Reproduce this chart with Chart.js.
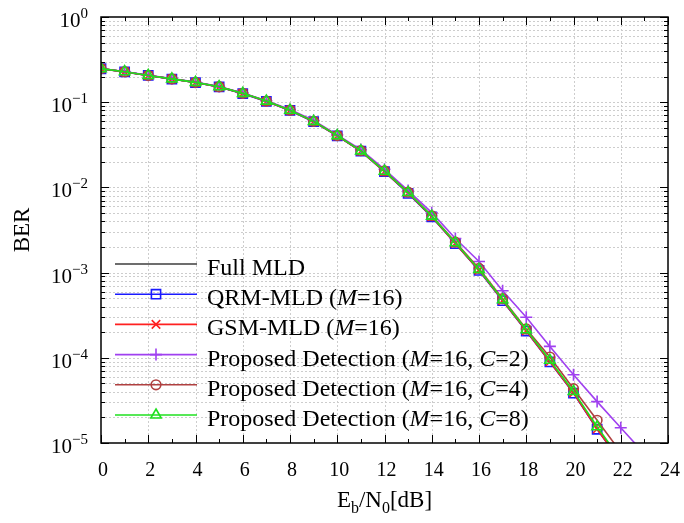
<!DOCTYPE html>
<html>
<head>
<meta charset="utf-8">
<script src="https://cdn.jsdelivr.net/npm/chart.js@4.4.0/dist/chart.umd.min.js"></script>
<style>
  html, body { margin: 0; padding: 0; background: #fff; }
  #wrap { width: 684px; height: 523px; }
</style>
</head>
<body>
<div id="wrap"><canvas id="berChart"></canvas></div>
<script>
// Eb/N0 in dB
const ebn0 = [0, 1, 2, 3, 4, 5, 6, 7, 8, 9, 10, 11, 12, 13, 14, 15, 16, 17, 18, 19, 20, 21, 22, 23];

// BER curves
const berFull = [0.248, 0.228, 0.206, 0.188, 0.171, 0.152, 0.127, 0.103, 0.0805, 0.0595, 0.0404, 0.0267, 0.0154, 0.0086, 0.00455, 0.00221, 0.00107, 0.000475, 0.000209, 0.000091, 0.0000392, 0.0000148, 0.0000061];
const berQrm = [0.247, 0.227, 0.206, 0.187, 0.170, 0.151, 0.126, 0.102, 0.0800, 0.0590, 0.0402, 0.0266, 0.0153, 0.0085, 0.00450, 0.00219, 0.00106, 0.000468, 0.000206, 0.0000895, 0.0000385, 0.0000145, 0.0000060];
const berGsm = [0.248, 0.227, 0.206, 0.188, 0.170, 0.151, 0.127, 0.102, 0.0802, 0.0594, 0.0403, 0.0266, 0.0153, 0.0086, 0.00452, 0.00220, 0.00107, 0.000470, 0.000207, 0.0000900, 0.0000388, 0.0000146, 0.0000060];
const berC2 = [0.249, 0.229, 0.207, 0.189, 0.172, 0.153, 0.128, 0.104, 0.0820, 0.0610, 0.0414, 0.0278, 0.0163, 0.0092, 0.00505, 0.00251, 0.00135, 0.000612, 0.000299, 0.000136, 0.0000632, 0.0000306, 0.0000151, 0.0000075];
const berC4 = [0.248, 0.228, 0.206, 0.188, 0.171, 0.152, 0.127, 0.103, 0.0806, 0.0597, 0.0406, 0.0270, 0.0156, 0.0088, 0.00465, 0.00228, 0.00112, 0.000495, 0.000218, 0.000102, 0.0000434, 0.0000185, 0.0000078];
const berC8 = [0.248, 0.228, 0.206, 0.188, 0.171, 0.152, 0.127, 0.103, 0.0805, 0.0596, 0.0405, 0.0268, 0.0155, 0.0087, 0.00460, 0.00224, 0.00109, 0.000480, 0.000213, 0.0000935, 0.0000403, 0.0000155, 0.0000064];

const seriesNames = ['Full MLD', 'QRM-MLD (M=16)', 'GSM-MLD (M=16)',
  'Proposed Detection (M=16, C=2)', 'Proposed Detection (M=16, C=4)', 'Proposed Detection (M=16, C=8)'];
const seriesColors = ['#3c3c3c', '#1a1aff', '#ff2020', '#a040f0', '#b04040', '#1fe01f'];
const seriesMarkers = [false, 'rect', 'crossRot', 'cross', 'circle', 'triangle'];
const markerSizes = [0, 6.5, 6, 6, 4.8, 6];
const seriesValues = [berFull, berQrm, berGsm, berC2, berC4, berC8];

const xTicks = [0, 2, 4, 6, 8, 10, 12, 14, 16, 18, 20, 22, 24];
const yDecades = [1, 0.1, 0.01, 0.001, 0.0001, 0.00001];
const yExponents = ['0', '\u22121', '\u22122', '\u22123', '\u22124', '\u22125'];

const SERIF = '"Liberation Serif", "DejaVu Serif", serif';

const pts = vals => vals.map((v, i) => ({ x: ebn0[i], y: v }));

const datasets = seriesValues.map((vals, i) => ({
  label: seriesNames[i],
  data: pts(vals),
  borderColor: seriesColors[i],
  backgroundColor: 'rgba(0,0,0,0)',
  borderWidth: 1.6,
  pointStyle: seriesMarkers[i] || 'circle',
  pointRadius: markerSizes[i],
  pointBorderWidth: 1.6,
  pointBorderColor: seriesColors[i],
  pointBackgroundColor: 'rgba(0,0,0,0)',
  order: seriesValues.length - i,
  tension: 0
}));

// draws a string where "M" / "C" before "=" are italic
function drawRich(ctx, text, x, y, size) {
  const parts = text.split(/([MC])(?==)/);
  parts.forEach((p, i) => {
    if (!p) return;
    const italic = i % 2 === 1;
    ctx.font = (italic ? 'italic ' : '') + size + 'px ' + SERIF;
    ctx.fillText(p, x, y);
    x += ctx.measureText(p).width;
  });
}

const gnuFrame = {
  id: 'gnuFrame',
  beforeDatasetsDraw(chart) {
    const { ctx, chartArea: a, scales: { x, y } } = chart;
    ctx.save();
    ctx.strokeStyle = '#cdcdcd';
    ctx.lineWidth = 1;
    ctx.setLineDash([2, 2]);
    xTicks.forEach(v => {
      if (v === 0 || v === 24) return;
      const px = Math.round(x.getPixelForValue(v)) + 0.5;
      ctx.beginPath(); ctx.moveTo(px, a.top); ctx.lineTo(px, a.bottom); ctx.stroke();
    });
    yDecades.forEach((d, k) => {
      if (k === 0) return;
      for (let m = 1; m <= 9; m++) {
        if (m === 1 && k === yDecades.length - 1) continue;
        const py = Math.round(y.getPixelForValue(d * m)) + 0.5;
        ctx.beginPath(); ctx.moveTo(a.left, py); ctx.lineTo(a.right, py); ctx.stroke();
      }
    });
    ctx.restore();
  },
  afterDraw(chart) {
    const { ctx, chartArea: a, scales: { x, y } } = chart;
    ctx.save();
    ctx.setLineDash([]);
    ctx.strokeStyle = '#000';
    ctx.lineWidth = 1.5;
    ctx.strokeRect(a.left, a.top, a.right - a.left, a.bottom - a.top);

    // tick marks
    ctx.lineWidth = 1;
    for (let v = 0; v <= 24; v++) {
      const len = v % 2 === 0 ? 8 : 4;
      const px = Math.round(x.getPixelForValue(v)) + 0.5;
      ctx.beginPath();
      ctx.moveTo(px, a.bottom); ctx.lineTo(px, a.bottom - len);
      ctx.moveTo(px, a.top); ctx.lineTo(px, a.top + len);
      ctx.stroke();
    }
    yDecades.forEach((d, k) => {
      for (let m = 1; m <= 9; m++) {
        if (m > 1 && k === 0) break;
        const len = m === 1 ? 8 : 4;
        const py = Math.round(y.getPixelForValue(d * m)) + 0.5;
        ctx.beginPath();
        ctx.moveTo(a.left, py); ctx.lineTo(a.left + len, py);
        ctx.moveTo(a.right, py); ctx.lineTo(a.right - len, py);
        ctx.stroke();
      }
    });

    // tick labels
    ctx.fillStyle = '#000';
    ctx.textBaseline = 'alphabetic';
    ctx.textAlign = 'center';
    ctx.font = '20px ' + SERIF;
    xTicks.forEach(v => ctx.fillText(String(v), x.getPixelForValue(v) + 2, a.bottom + 33));

    ctx.textAlign = 'right';
    yDecades.forEach((d, k) => {
      const py = y.getPixelForValue(d);
      ctx.font = '15px ' + SERIF;
      const supW = ctx.measureText(yExponents[k]).width;
      ctx.fillText(yExponents[k], 88, py + 1);
      ctx.font = '21px ' + SERIF;
      ctx.fillText('10', 88 - supW, py + 10);
    });

    // axis titles
    ctx.textAlign = 'left';
    const tx = [['E', 23, 0], ['b', 16, 6], ['/N', 23, 0], ['0', 16, 6], ['[dB]', 23, 0]];
    let w = 0;
    tx.forEach(([s, f]) => { ctx.font = f + 'px ' + SERIF; w += ctx.measureText(s).width; });
    let cx = (a.left + a.right) / 2 - w / 2;
    tx.forEach(([s, f, dy]) => {
      ctx.font = f + 'px ' + SERIF;
      ctx.fillText(s, cx, 507 + dy);
      cx += ctx.measureText(s).width;
    });

    ctx.save();
    ctx.translate(29, (a.top + a.bottom) / 2);
    ctx.rotate(-Math.PI / 2);
    ctx.textAlign = 'center';
    ctx.font = '23px ' + SERIF;
    ctx.fillText('BER', 0, 0);
    ctx.restore();

    // legend
    chart.data.datasets.forEach((ds, i) => {
      const ly = 264 + i * 30.2;
      ctx.strokeStyle = ds.borderColor;
      ctx.lineWidth = 1.6;
      ctx.beginPath(); ctx.moveTo(115, ly); ctx.lineTo(197, ly); ctx.stroke();
      if (seriesMarkers[i]) {
        ctx.fillStyle = 'rgba(0,0,0,0)';
        Chart.helpers.drawPoint(ctx, { pointStyle: seriesMarkers[i], radius: markerSizes[i], borderWidth: 1.6, rotation: 0 }, 156, ly);
      }
      ctx.fillStyle = '#000';
      drawRich(ctx, ds.label, 207, ly + 11, 24);
    });
    ctx.restore();
  }
};

new Chart(document.getElementById('berChart'), {
  type: 'line',
  data: { datasets },
  options: {
    responsive: true,
    maintainAspectRatio: false,
    animation: false,
    layout: { padding: { left: 101, top: 17, right: 16, bottom: 80 } },
    plugins: { legend: { display: false }, tooltip: { enabled: false } },
    scales: {
      x: { type: 'linear', min: 0, max: 24, display: false },
      y: { type: 'logarithmic', min: 0.00001, max: 1, display: false }
    }
  },
  plugins: [gnuFrame]
});
</script>
</body>
</html>
